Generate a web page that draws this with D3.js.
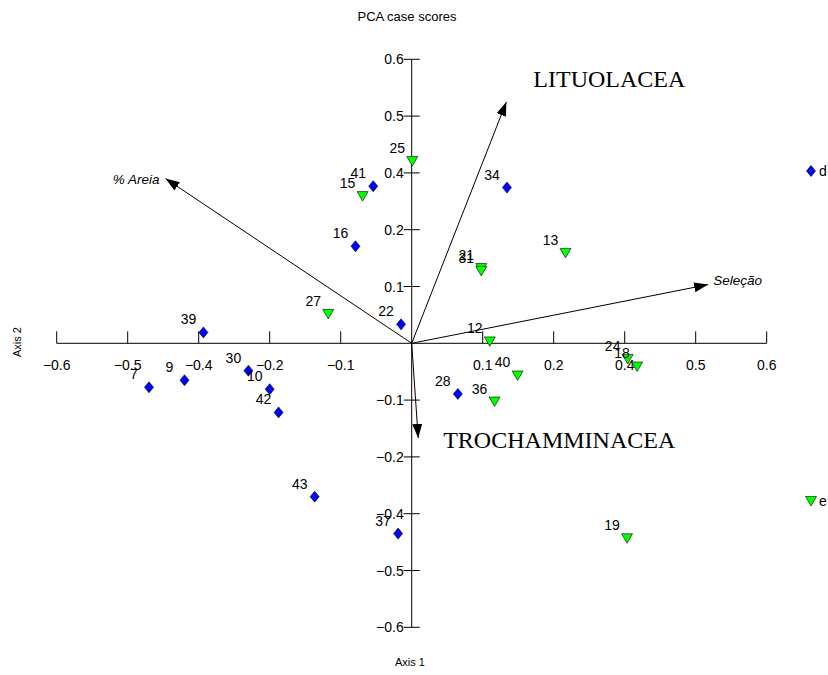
<!DOCTYPE html>
<html>
<head>
  <meta charset="utf-8"/>
  <title>PCA case scores</title>
  <script src="https://d3js.org/d3.v7.min.js"></script>
  <style>
    body { margin: 0; background: #fff; }
    text { font-family: "Liberation Sans", Arial, sans-serif; fill: #000; }
  </style>
</head>
<body>
<div id="chart"></div>
<script>
  // sample scores: [label, axis1, axis2]
  var groupD = [
    ["39", -0.352, 0.023], ["7", -0.444, -0.093], ["9", -0.384, -0.078],
    ["30", -0.276, -0.058], ["10", -0.240, -0.097], ["42", -0.225, -0.146],
    ["16", -0.095, 0.205], ["41", -0.065, 0.332], ["22", -0.018, 0.040],
    ["34", 0.161, 0.329], ["28", 0.078, -0.107], ["43", -0.164, -0.324],
    ["37", -0.023, -0.402]
  ];
  var groupE = [
    ["15", -0.083, 0.311], ["27", -0.141, 0.062], ["25", 0.001, 0.385],
    ["13", 0.260, 0.191], ["21", 0.1175, 0.159], ["31", 0.1175, 0.153],
    ["12", 0.132, 0.004], ["24", 0.365, -0.033], ["18", 0.381, -0.049],
    ["40", 0.179, -0.068], ["36", 0.140, -0.123], ["19", 0.364, -0.412]
  ];
  // biplot vectors: [label, axis1, axis2, style]
  var vectors = [
    ["% Areia", -0.416, 0.348, "italic"],
    ["LITUOLACEA", 0.160, 0.510, "serif"],
    ["Seleção", 0.501, 0.124, "italic"],
    ["TROCHAMMINACEA", 0.011, -0.200, "serif"]
  ];
  var tickValues = [-0.6, -0.48, -0.36, -0.24, -0.12, 0.12, 0.24, 0.36, 0.48, 0.6];

  var width = 828, height = 675;
  var svg = d3.select("#chart").append("svg")
    .attr("width", width).attr("height", height);

  var x = d3.scaleLinear().domain([-0.6, 0.6]).range([56.7, 766.7]);
  var y = d3.scaleLinear().domain([-0.6, 0.6]).range([627.3, 59.3]);
  var fmt = d3.format(".1f");

  svg.append("defs").append("marker")
    .attr("id", "head")
    .attr("viewBox", "0 0 14 10")
    .attr("refX", 14).attr("refY", 5)
    .attr("markerWidth", 14).attr("markerHeight", 10)
    .attr("markerUnits", "userSpaceOnUse")
    .attr("orient", "auto")
    .append("path").attr("d", "M0,0L14,5L0,10Z").attr("fill", "#000");

  // title
  svg.append("text").attr("x", 407).attr("y", 21)
    .attr("text-anchor", "middle").style("font-size", "13px")
    .text("PCA case scores");

  // x axis through origin
  var xAxis = svg.append("g");
  xAxis.append("line")
    .attr("x1", x(-0.6)).attr("x2", x(0.6))
    .attr("y1", y(0)).attr("y2", y(0))
    .attr("stroke", "#000");
  xAxis.selectAll(".tk").data(tickValues).enter().append("line")
    .attr("x1", d => x(d)).attr("x2", d => x(d))
    .attr("y1", y(0) - 12).attr("y2", y(0))
    .attr("stroke", "#000");
  xAxis.selectAll(".lb").data(tickValues).enter().append("text")
    .attr("x", d => x(d)).attr("y", y(0) + 27)
    .attr("text-anchor", "middle").style("font-size", "14px")
    .text(d => fmt(d));

  // y axis through origin
  var yAxis = svg.append("g");
  yAxis.append("line")
    .attr("x1", x(0)).attr("x2", x(0))
    .attr("y1", y(0.6)).attr("y2", y(-0.6))
    .attr("stroke", "#000");
  yAxis.selectAll(".tk").data(tickValues).enter().append("line")
    .attr("x1", x(0) - 8).attr("x2", x(0) + 8)
    .attr("y1", d => y(d)).attr("y2", d => y(d))
    .attr("stroke", "#000");
  yAxis.selectAll(".lb").data(tickValues).enter().append("text")
    .attr("x", x(0) - 8).attr("y", d => y(d) + 5)
    .attr("text-anchor", "end").style("font-size", "14px")
    .text(d => fmt(d));

  svg.append("text").attr("x", 410).attr("y", 666)
    .attr("text-anchor", "middle").style("font-size", "11px").text("Axis 1");
  svg.append("text").attr("transform", "translate(21,342) rotate(-90)")
    .attr("text-anchor", "middle").style("font-size", "11px").text("Axis 2");

  // vectors
  var vg = svg.append("g");
  vg.selectAll("line").data(vectors).enter().append("line")
    .attr("x1", x(0)).attr("y1", y(0))
    .attr("x2", d => x(d[1])).attr("y2", d => y(d[2]))
    .attr("stroke", "#000").attr("stroke-width", 1)
    .attr("marker-end", "url(#head)");

  var vpos = {
    "% Areia": [-6, 5, "end"],
    "LITUOLACEA": [27, -15, "start"],
    "Seleção": [5, 0, "start"],
    "TROCHAMMINACEA": [25, 10, "start"]
  };
  vg.selectAll("text").data(vectors).enter().append("text")
    .attr("x", d => x(d[1]) + vpos[d[0]][0])
    .attr("y", d => y(d[2]) + vpos[d[0]][1])
    .attr("text-anchor", d => vpos[d[0]][2])
    .style("font-family", d => d[3] == "serif" ? "'Liberation Serif', 'Times New Roman', serif" : null)
    .style("font-style", d => d[3] == "italic" ? "italic" : null)
    .style("font-size", d => d[3] == "serif" ? "24px" : "13.5px")
    .text(d => d[0]);

  // points
  var diamond = "M0,-5.5L4.5,0L0,5.5L-4.5,0Z";
  var triangle = "M-5.5,-4.5L5.5,-4.5L0,5Z";

  function drawGroup(data, shape, color) {
    var g = svg.append("g");
    g.selectAll("path").data(data).enter().append("path")
      .attr("d", shape)
      .attr("transform", d => "translate(" + x(d[1]) + "," + y(d[2]) + ")")
      .attr("fill", color).attr("stroke", "#000").attr("stroke-width", 0.6);
    g.selectAll("text").data(data).enter().append("text")
      .attr("x", d => x(d[1]) - 15)
      .attr("y", d => y(d[2]) - 8)
      .attr("text-anchor", "middle").style("font-size", "14px")
      .text(d => d[0]);
  }
  drawGroup(groupD, diamond, "#0000ff");
  drawGroup(groupE, triangle, "#00ff00");

  // legend
  var legend = [["d", diamond, "#0000ff", 171], ["e", triangle, "#00ff00", 501]];
  var lg = svg.append("g");
  lg.selectAll("path").data(legend).enter().append("path")
    .attr("d", d => d[1])
    .attr("transform", d => "translate(811," + d[3] + ")")
    .attr("fill", d => d[2]).attr("stroke", "#000").attr("stroke-width", 0.6);
  lg.selectAll("text").data(legend).enter().append("text")
    .attr("x", 819).attr("y", d => d[3] + 5)
    .style("font-size", "14px").text(d => d[0]);
</script>
</body>
</html>
